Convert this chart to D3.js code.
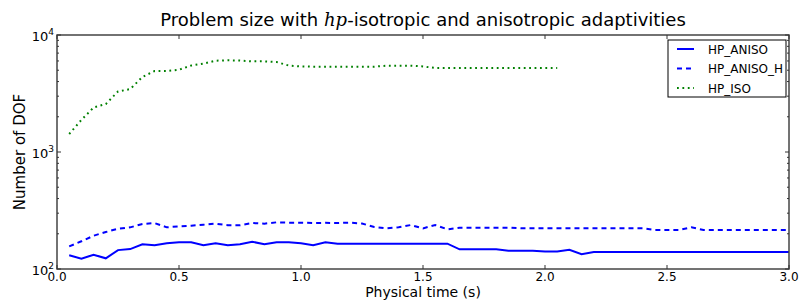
<!DOCTYPE html>
<html>
<head>
<meta charset="utf-8">
<script src="https://cdn.jsdelivr.net/npm/d3@7"></script>
<style>
  body { margin: 0; background: #fff; }
  svg { display: block; font-family: "DejaVu Sans", sans-serif; }
</style>
</head>
<body>
<div id="chart"></div>
<script>
// time steps (s)
const timesAniso = d3.range(1, 61).map(i => +(i * 0.05).toFixed(2));
const timesIso = d3.range(1, 42).map(i => +(i * 0.05).toFixed(2));

const hpAniso = [131, 122.5, 132.5, 123.4, 145, 148, 162.5, 159.5, 166, 169,
  169, 159.5, 166, 159.5, 162.5, 171, 162.5, 169, 169, 166,
  159.5, 169, 164.5, 164.5, 164.5, 164.5, 164.5, 164.5, 164.5, 164.5,
  164.5, 164.5, 147.3, 147.3, 147.3, 147.3, 143.3, 143.3, 143.3, 141,
  141, 146, 133.6, 139.8, 139.8, 139.8, 139.8, 139.8, 139.8, 139.8,
  139.8, 139.8, 139.8, 139.8, 139.8, 139.8, 139.8, 139.8, 139.8, 139.8];

const hpAnisoH = [156, 172.5, 192.6, 207, 221, 227, 242.5, 247, 227, 231.5,
  234.5, 239, 244, 236.5, 236.5, 247, 244, 250.6, 248.8, 248.8,
  247, 248, 247, 249, 245, 228.6, 222.6, 227, 237.7, 222.6,
  237.7, 218.2, 225.5, 225.5, 225.5, 225.5, 225.5, 222.6, 222.6, 222.6,
  222.6, 222.6, 222.6, 222.6, 222.6, 222.6, 222.6, 222.6, 215.5, 215.5,
  215.5, 227, 215.5, 215.5, 215.5, 215.5, 215.5, 215.5, 215.5, 215.5];

const hpIso = [1425, 1880, 2400, 2570, 3290, 3450, 4375, 4925, 4925, 5050,
  5485, 5690, 6030, 6080, 6050, 5955, 5955, 5875, 5485, 5385,
  5360, 5360, 5360, 5360, 5360, 5360, 5470, 5470, 5470, 5385,
  5225, 5225, 5225, 5225, 5225, 5225, 5225, 5225, 5225, 5225, 5225];

const seriesNames = ["HP_ANISO", "HP_ANISO_H", "HP_ISO"];
const xTicks = [0, 0.5, 1, 1.5, 2, 2.5, 3];
const yMajor = [100, 1000, 10000];

const width = 803, height = 300;
const marginTop = 35, marginRight = 14, marginBottom = 31, marginLeft = 57;

const x = d3.scaleLinear().domain([0, 3]).range([marginLeft, width - marginRight]);
const y = d3.scaleLog().domain([100, 10000]).range([height - marginBottom, marginTop]);

const series = [
  {name: seriesNames[0], t: timesAniso, v: hpAniso, color: "#0000ff", dash: null},
  {name: seriesNames[1], t: timesAniso, v: hpAnisoH, color: "#0000ff", dash: "5,4"},
  {name: seriesNames[2], t: timesIso, v: hpIso, color: "#008000", dash: "1.8,3.6"}
];

const svg = d3.select("#chart").append("svg")
  .attr("width", width)
  .attr("height", height)
  .attr("viewBox", [0, 0, width, height]);

// lines
const line = d3.line().x(d => x(d[0])).y(d => y(d[1]));
svg.append("g")
  .selectAll("path")
  .data(series)
  .join("path")
  .attr("fill", "none")
  .attr("stroke", d => d.color)
  .attr("stroke-width", 2)
  .attr("stroke-dasharray", d => d.dash)
  .attr("d", d => line(d.t.map((t, i) => [t, d.v[i]])));

// frame
svg.append("rect")
  .attr("x", marginLeft)
  .attr("y", marginTop)
  .attr("width", width - marginLeft - marginRight)
  .attr("height", height - marginTop - marginBottom)
  .attr("fill", "none")
  .attr("stroke", "#444")
  .attr("stroke-width", 1.5);

// x ticks (inward, top and bottom)
const xt = svg.append("g").attr("stroke", "#333").attr("stroke-width", 1);
xTicks.forEach(v => {
  xt.append("line").attr("x1", x(v)).attr("x2", x(v))
    .attr("y1", y.range()[0]).attr("y2", y.range()[0] - 4);
  xt.append("line").attr("x1", x(v)).attr("x2", x(v))
    .attr("y1", y.range()[1]).attr("y2", y.range()[1] + 4);
});

svg.append("g")
  .attr("font-size", 12)
  .attr("text-anchor", "middle")
  .selectAll("text")
  .data(xTicks)
  .join("text")
  .attr("x", d => x(d))
  .attr("y", height - marginBottom + 12)
  .text(d => d3.format(".1f")(d));

// y ticks (log, major + minor)
const yt = svg.append("g").attr("stroke", "#333").attr("stroke-width", 1);
y.ticks().forEach(v => {
  const major = yMajor.includes(v);
  const len = major ? 4 : 2;
  yt.append("line").attr("x1", x.range()[0]).attr("x2", x.range()[0] + len)
    .attr("y1", y(v)).attr("y2", y(v));
  yt.append("line").attr("x1", x.range()[1]).attr("x2", x.range()[1] - len)
    .attr("y1", y(v)).attr("y2", y(v));
});

const yl = svg.append("g").attr("font-size", 13).attr("text-anchor", "end");
yMajor.forEach(v => {
  const t = yl.append("text")
    .attr("x", marginLeft - 3)
    .attr("y", y(v) + 6);
  t.append("tspan").text("10");
  t.append("tspan").attr("font-size", 9).attr("dy", -6).text(Math.round(Math.log10(v)));
});

// axis labels
svg.append("text")
  .attr("x", (x.range()[0] + x.range()[1]) / 2)
  .attr("y", height - 3)
  .attr("text-anchor", "middle")
  .attr("font-size", 14)
  .text("Physical time (s)");

svg.append("text")
  .attr("transform", `translate(25,${(y.range()[0] + y.range()[1]) / 2}) rotate(-90)`)
  .attr("text-anchor", "middle")
  .attr("font-size", 15)
  .text("Number of DOF");

// title
const title = svg.append("text")
  .attr("x", (x.range()[0] + x.range()[1]) / 2)
  .attr("y", 26)
  .attr("text-anchor", "middle")
  .attr("font-size", 18);
title.append("tspan").text("Problem size with ");
title.append("tspan").attr("font-family", "DejaVu Serif").attr("font-style", "italic").text("hp");
title.append("tspan").text("-isotropic and anisotropic adaptivities");

// legend
const legend = svg.append("g").attr("transform", "translate(668,40)");
legend.append("rect")
  .attr("width", 118).attr("height", 57)
  .attr("fill", "#fff").attr("stroke", "#000").attr("stroke-width", 1);
series.forEach((s, i) => {
  const yy = 9 + i * 19.5;
  legend.append("line")
    .attr("x1", 9).attr("x2", 26).attr("y1", yy).attr("y2", yy)
    .attr("stroke", s.color).attr("stroke-width", 2)
    .attr("stroke-dasharray", s.dash);
  legend.append("text")
    .attr("x", 40).attr("y", yy + 4.5)
    .attr("font-size", 12)
    .text(s.name);
});
</script>
</body>
</html>
